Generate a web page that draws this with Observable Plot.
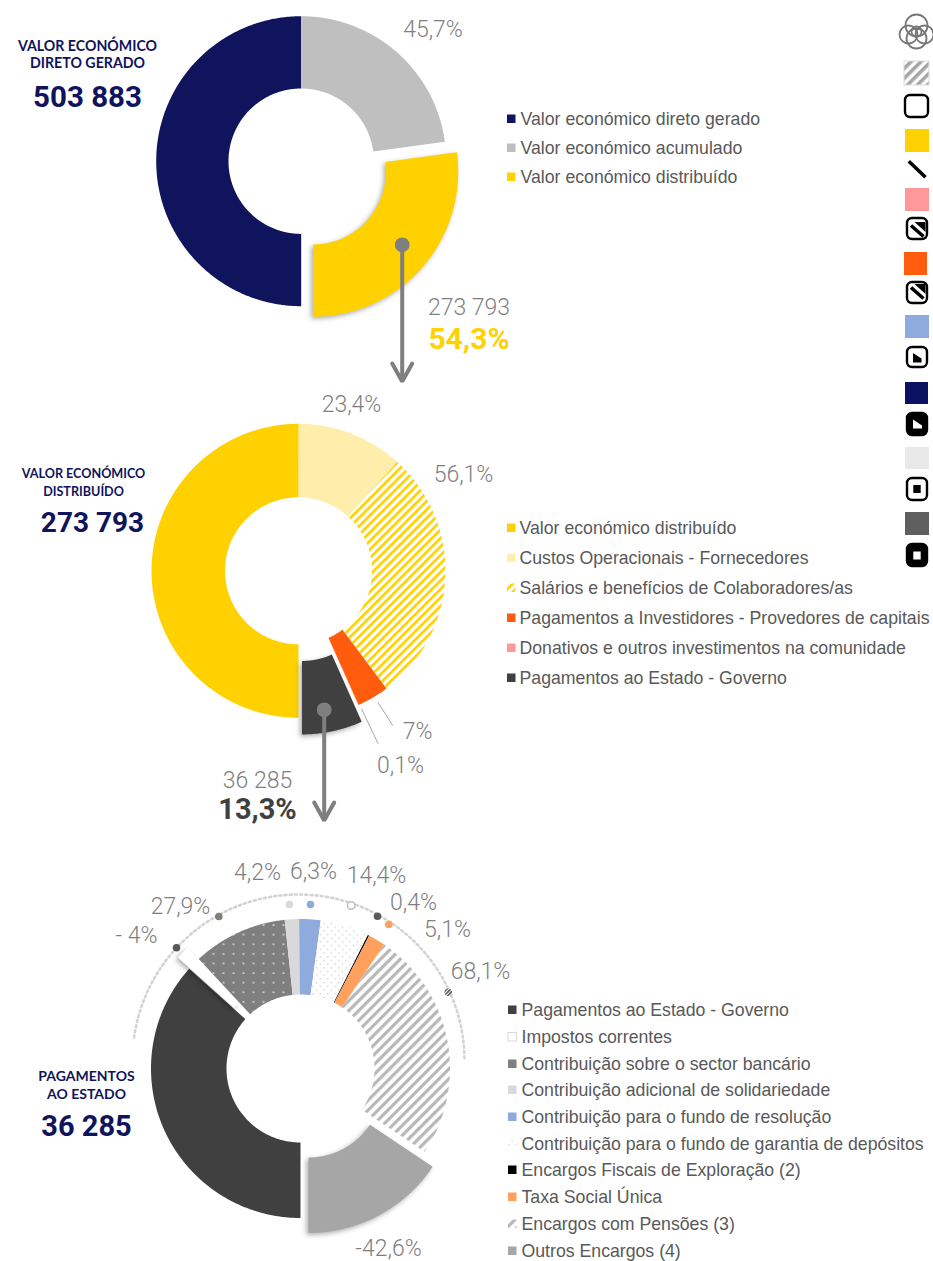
<!DOCTYPE html>
<html lang="pt">
<head>
<meta charset="utf-8">
<script src="https://cdn.jsdelivr.net/npm/d3@7"></script>
<script src="https://cdn.jsdelivr.net/npm/@observablehq/plot@0.6"></script>
<style>html,body{margin:0;padding:0;background:#fff}svg{display:block}</style>
</head>
<body>
<div id="chart"></div>
<script>
// ---- data: values ----
const gerado = ["Valor económico direto gerado", "Valor económico acumulado", "Valor económico distribuído"];
const geradoValues = [100, 45.7, 54.3];
const distribuido = ["Valor económico distribuído", "Custos Operacionais - Fornecedores", "Salários e benefícios de Colaboradores/as", "Pagamentos a Investidores - Provedores de capitais", "Donativos e outros investimentos na comunidade", "Pagamentos ao Estado - Governo"];
const distribuidoValues = [100, 23.4, 56.1, 7, 0.1, 13.3];
const estado = ["Pagamentos ao Estado - Governo", "Impostos correntes", "Contribuição sobre o sector bancário", "Contribuição adicional de solidariedade", "Contribuição para o fundo de resolução", "Contribuição para o fundo de garantia de depósitos", "Encargos Fiscais de Exploração (2)", "Taxa Social Única", "Encargos com Pensões (3)", "Outros Encargos (4)"];
const estadoValues = [100, 4, 27.9, 4.2, 6.3, 14.4, 0.4, 5.1, 68.1, 42.6];

// ---- styles ----
const NAVY = "#10145c", YELLOW = "#ffd100", GREY = "#7f7f7f", TXT = "#7f7f7f", LEG = "#595959";
const fillsGerado = [NAVY, "#bfbfbf", YELLOW];
const fillsDistribuido = [YELLOW, "#ffedab", "url(#hYellow)", "#ff5d0d", "#ff9999", "#404040"];
const fillsEstado = ["#404040", "#ffffff", "url(#dGrey)", "#d9d9d9", "#8faadc", "url(#dWhite)", "#000000", "#ffa05c", "url(#hGrey)", "#a6a6a6"];
const swatchEstado = ["#404040", "#ffffff", "#7f7f7f", "#d9d9d9", "#8faadc", "url(#dWhite)", "#000000", "#ffa05c", "url(#hGrey)", "#a6a6a6"];
const SHADOW = "drop-shadow(-1.5px 2px 2.5px rgba(0,0,0,.32))";

// ---- layout ----
const W = 933, H = 1261;
function wedges(values, start, c, R, r) {
  const total = d3.sum(values);
  let a = start;
  return values.map((v, i) => {
    const a0 = a, a1 = a + v / total * 360;
    a = a1;
    return {i, a0, a1, mid: (a0 + a1) / 2, c, R, r};
  });
}
function ring(w, explode = 0) {
  const t = d => d * Math.PI / 180;
  const cx = w.c[0] + explode * Math.sin(t(w.mid));
  const cy = w.c[1] - explode * Math.cos(t(w.mid));
  const n = Math.max(1, Math.ceil((w.a1 - w.a0) / 0.5));
  const pts = [];
  for (let k = 0; k <= n; k++) { const a = t(w.a0 + (w.a1 - w.a0) * k / n); pts.push({x: cx + w.R * Math.sin(a), y: cy - w.R * Math.cos(a)}); }
  for (let k = n; k >= 0; k--) { const a = t(w.a0 + (w.a1 - w.a0) * k / n); pts.push({x: cx + w.r * Math.sin(a), y: cy - w.r * Math.cos(a)}); }
  return pts;
}
const wedge = (w, fill, explode = 0, extra = {}) =>
  Plot.line(ring(w, explode), {x: "x", y: "y", fill, stroke: "none", curve: "linear", ...extra});

const w1 = wedges(geradoValues, 180, [300.7, 160.7], 145, 72.7);
const w2 = wedges(distribuidoValues, 180, [298, 570.3], 147, 73.5);
const w3 = wedges(estadoValues, 180, [300, 1068], 149.5, 74);

const defs = () => {
  const ns = "http://www.w3.org/2000/svg";
  const d = document.createElementNS(ns, "defs");
  d.innerHTML = `
  <pattern id="hYellow" width="6" height="6" patternUnits="userSpaceOnUse" patternTransform="rotate(45)"><rect width="2.7" height="6" fill="${YELLOW}"/></pattern>
  <pattern id="hGrey" width="7" height="7" patternUnits="userSpaceOnUse" patternTransform="rotate(45)"><rect width="3.2" height="7" fill="#b8b8b8"/></pattern>
  <pattern id="hSwatch" width="7" height="7" patternUnits="userSpaceOnUse" patternTransform="rotate(45)"><rect width="3.6" height="7" fill="#a6a6a6"/></pattern>
  <pattern id="hDark" width="2.6" height="2.6" patternUnits="userSpaceOnUse" patternTransform="rotate(45)"><rect width="1.5" height="2.6" fill="#555"/></pattern>
  <pattern id="dGrey" width="10" height="9.6" patternUnits="userSpaceOnUse"><rect width="10" height="9.6" fill="#7f7f7f"/><circle cx="3" cy="3" r=".8" fill="#fff"/></pattern>
  <pattern id="dWhite" width="7.4" height="7.4" patternUnits="userSpaceOnUse"><rect width="7.4" height="7.4" fill="#fff"/><circle cx="1.7" cy="1.7" r=".6" fill="#a0a0a0"/><circle cx="5.4" cy="5.4" r=".6" fill="#a0a0a0"/></pattern>`;
  return d;
};

// annotation positions
const legend1Y = [119, 148, 177];
const legend2Y = [528, 558, 588, 618, 648, 678];
const legend3Y = [1010, 1037, 1064, 1090, 1117, 1144, 1170, 1197, 1224, 1251];
const legendRows = (names, ys, x, fills) => names.map((name, i) => ({name, y: ys[i], x, fill: fills[i]}));
const leg1 = legendRows(gerado, legend1Y, 520, fillsGerado);
const leg2 = legendRows(distribuido, legend2Y, 519, fillsDistribuido);
const leg3 = legendRows(estado, legend3Y, 521, swatchEstado);

const pctLabels = [
  {t: "45,7%", x: 432.5, y: 29}, {t: "273 793", x: 468.5, y: 307.5},
  {t: "23,4%", x: 351, y: 404}, {t: "56,1%", x: 463, y: 474}, {t: "7%", x: 417, y: 731}, {t: "0,1%", x: 400, y: 765}, {t: "36 285", x: 257, y: 780},
  {t: "4,2%", x: 257, y: 872}, {t: "6,3%", x: 313, y: 871}, {t: "14,4%", x: 376, y: 875}, {t: "0,4%", x: 413, y: 902}, {t: "5,1%", x: 447, y: 929}, {t: "68,1%", x: 480, y: 971}, {t: "27,9%", x: 180, y: 906}, {t: "- 4%", x: 136, y: 935}, {t: "-42,6%", x: 388, y: 1248}
];
const boldLabels = [{t: "54,3%", x: 468.5, y: 338.5, c: YELLOW, fs: 30}, {t: "13,3%", x: 257, y: 809, c: "#404040", fs: 29}];
const heads = [
  {t: "VALOR ECONÓMICO", x: 87, y: 46, fs: 14.2}, {t: "DIRETO GERADO", x: 87, y: 63, fs: 14.2},
  {t: "VALOR ECONÓMICO", x: 83, y: 473, fs: 12.6}, {t: "DISTRIBUÍDO", x: 83, y: 491, fs: 12.6},
  {t: "PAGAMENTOS", x: 86, y: 1076, fs: 14}, {t: "AO ESTADO", x: 86, y: 1094, fs: 14}
];
const totals = [{t: "503 883", x: 87, y: 97, fs: 29.5}, {t: "273 793", x: 92, y: 523, fs: 28}, {t: "36 285", x: 86, y: 1126, fs: 29}];

// dotted arc above the third ring
const arcC = [298, 1060], arcR = 166;
const arcPts = d3.range(-82, 91, 1).map(a => ({x: arcC[0] + arcR * Math.sin(a * Math.PI / 180), y: arcC[1] - arcR * Math.cos(a * Math.PI / 180)}));
const arcDots = [
  {x: 176, y: 947.3, f: "#595959"}, {x: 218.3, y: 916, f: "#7f7f7f"}, {x: 289, y: 904, f: "#d9d9d9"}, {x: 310, y: 904, f: "#8faadc"},
  {x: 350.7, y: 905, f: "#fff", s: "#bfbfbf"}, {x: 377, y: 915.7, f: "#595959"}, {x: 388.3, y: 924, f: "#ffa05c"}, {x: 447.7, y: 991.7, f: "url(#hDark)"}
];

// pointers
const arrows = [{x: 401.7, y1: 244.3, y2: 383}, {x: 323.7, y1: 709.3, y2: 822}];
const chevrons = arrows.flatMap((a, i) => [{x: a.x - 10, y: a.y2 - 20, z: i}, {x: a.x, y: a.y2 - 2, z: i}, {x: a.x + 10, y: a.y2 - 20, z: i}]);
const leaders = [{x1: 377.3, y1: 701.7, x2: 392.3, y2: 725}, {x1: 361, y1: 708.3, x2: 377.7, y2: 743.3}];

// side strip of swatches and small icons
const swatches = [
  {x1: 904, x2: 929, y1: 61, y2: 85, f: "url(#hSwatch)", s: "#dedede"},
  {x1: 905, x2: 929, y1: 129, y2: 152, f: YELLOW},
  {x1: 905, x2: 929, y1: 188, y2: 211, f: "#ff9999"},
  {x1: 904, x2: 927, y1: 252, y2: 275, f: "#ff5d0d"},
  {x1: 905, x2: 929, y1: 315, y2: 338, f: "#8faadc"},
  {x1: 905, x2: 928, y1: 382, y2: 404, f: "#0b1261"},
  {x1: 905, x2: 929, y1: 447, y2: 469, f: "#e9e9e9"},
  {x1: 905, x2: 929, y1: 512, y2: 535, f: "#5f5f5f"}
];
const iconBoxes = [
  {x1: 905, x2: 928, y1: 95, y2: 117, f: "#fff"}, {x1: 907, x2: 927, y1: 218, y2: 239, f: "#fff"}, {x1: 907, x2: 927, y1: 282, y2: 303, f: "#fff"},
  {x1: 907, x2: 927, y1: 347, y2: 367, f: "#fff"}, {x1: 907, x2: 927, y1: 413, y2: 435, f: "#000"}, {x1: 907, x2: 927, y1: 478, y2: 500, f: "#fff"}, {x1: 907, x2: 927, y1: 544, y2: 566, f: "#000"}
];
const iconSquares = [{x1: 913.3, x2: 920.7, y1: 485, y2: 493, f: "#000"}, {x1: 913.3, x2: 920.7, y1: 551.5, y2: 559.5, f: "#fff"}];
const iconLines = [{x1: 908.3, y1: 160.7, x2: 925, y2: 176.7}, {x1: 910.5, y1: 225, x2: 923, y2: 236}, {x1: 910.5, y1: 287, x2: 923, y2: 298}];
const iconBlob = (pts, z, f) => pts.map(p => ({x: p[0], y: p[1], z, f}));
const iconBlobs = [
  ...iconBlob([[914, 221.5], [925, 221.5], [925, 231.5]], 0, "#000"),
  ...iconBlob([[914, 283.5], [925, 283.5], [925, 293.5]], 1, "#000"),
  ...iconBlob([[912.5, 352.5], [921, 358], [921, 362], [912.5, 362]], 2, "#000"),
  ...iconBlob([[912.5, 419], [921.5, 425], [921.5, 428], [912.5, 428]], 3, "#fff")
];
const logoRings = [{x: 908, y: 34, r: 9}, {x: 924, y: 34, r: 9}, {x: 916, y: 25, r: 11}, {x: 916, y: 38, r: 10}, {x: 916, y: 31, r: 5}];

const NUM = "Roboto, 'Noto Sans', sans-serif";
const LEGF = "'Liberation Sans', Arial, sans-serif";
const HEAD = "Lato, sans-serif";

const chart = Plot.plot({
  width: W, height: H, margin: 0, style: {background: "#fff", overflow: "visible"},
  x: {domain: [0, W], range: [0, W], axis: null},
  y: {domain: [0, H], range: [0, H], axis: null},
  color: {type: "identity"}, r: {type: "identity"},
  marks: [
    defs,
    // ring 1
    wedge(w1[0], fillsGerado[0]),
    wedge(w1[1], fillsGerado[1]),
    wedge(w1[2], fillsGerado[2], 16, {imageFilter: SHADOW}),
    // ring 2
    ...[0, 1, 2, 3, 4].map(i => wedge(w2[i], fillsDistribuido[i])),
    wedge(w2[5], fillsDistribuido[5], 17, {imageFilter: SHADOW}),
    // ring 3
    wedge(w3[0], fillsEstado[0]),
    ...[2, 3, 4, 5, 6, 7, 8].map(i => wedge(w3[i], fillsEstado[i])),
    wedge(w3[9], fillsEstado[9], 17, {imageFilter: SHADOW}),
    wedge(w3[1], fillsEstado[1], 16, {imageFilter: SHADOW}),
    // pointers
    Plot.line(arcPts, {x: "x", y: "y", stroke: "#d4d4d4", strokeWidth: 2.6, strokeDasharray: "2 3.2"}),
    Plot.dot(arcDots, {x: "x", y: "y", r: 3.8, fill: "f", stroke: d => d.s || "none"}),
    Plot.link(leaders, {x1: "x1", y1: "y1", x2: "x2", y2: "y2", stroke: "#a6a6a6", strokeWidth: 1}),
    Plot.ruleX(arrows, {x: "x", y1: "y1", y2: d => d.y2 - 3, stroke: GREY, strokeWidth: 4}),
    Plot.dot(arrows, {x: "x", y: "y1", r: 7.4, fill: GREY}),
    Plot.line(chevrons, {x: "x", y: "y", z: "z", stroke: GREY, strokeWidth: 4, strokeLinejoin: "miter"}),
    // labels
    Plot.text(pctLabels, {x: "x", y: "y", text: "t", fill: TXT, fontFamily: NUM, fontWeight: 300, fontSize: 23}),
    Plot.text(boldLabels, {x: "x", y: "y", text: "t", fill: "c", fontFamily: NUM, fontWeight: 700, fontSize: "fs"}),
    Plot.text(heads, {x: "x", y: "y", text: "t", fill: NAVY, fontFamily: HEAD, fontWeight: 700, fontSize: "fs"}),
    Plot.text(totals, {x: "x", y: "y", text: "t", fill: NAVY, fontFamily: NUM, fontWeight: 700, fontSize: "fs"}),
    // legends
    ...[[leg1, 507], [leg2, 507], [leg3, 508]].flatMap(([rows, x0]) => [
      Plot.rect(rows, {x1: x0, x2: x0 + 8.5, y1: d => d.y - 4.5, y2: d => d.y + 4, fill: "fill", stroke: d => d.fill === "#ffffff" ? "#d9d9d9" : "none"}),
      Plot.text(rows, {x: "x", y: "y", text: "name", textAnchor: "start", fill: LEG, fontFamily: LEGF, fontSize: 17.7})
    ]),
    // side strip
    Plot.dot(logoRings, {x: "x", y: "y", r: "r", stroke: "#777", strokeWidth: 1.8, fill: "none"}),
    Plot.rect(swatches, {x1: "x1", x2: "x2", y1: "y1", y2: "y2", fill: "f", stroke: d => d.s || "none"}),
    Plot.rect(iconBoxes, {x1: "x1", x2: "x2", y1: "y1", y2: "y2", fill: "f", stroke: "#000", strokeWidth: 2.4, rx: 5, ry: 5}),
    Plot.rect(iconSquares, {x1: "x1", x2: "x2", y1: "y1", y2: "y2", fill: "f"}),
    Plot.line(iconBlobs, {x: "x", y: "y", z: "z", fill: "f", stroke: "none"}),
    Plot.link(iconLines, {x1: "x1", y1: "y1", x2: "x2", y2: "y2", stroke: "#000", strokeWidth: 3.6})
  ]
});
document.getElementById("chart").appendChild(chart);
</script>
</body>
</html>
